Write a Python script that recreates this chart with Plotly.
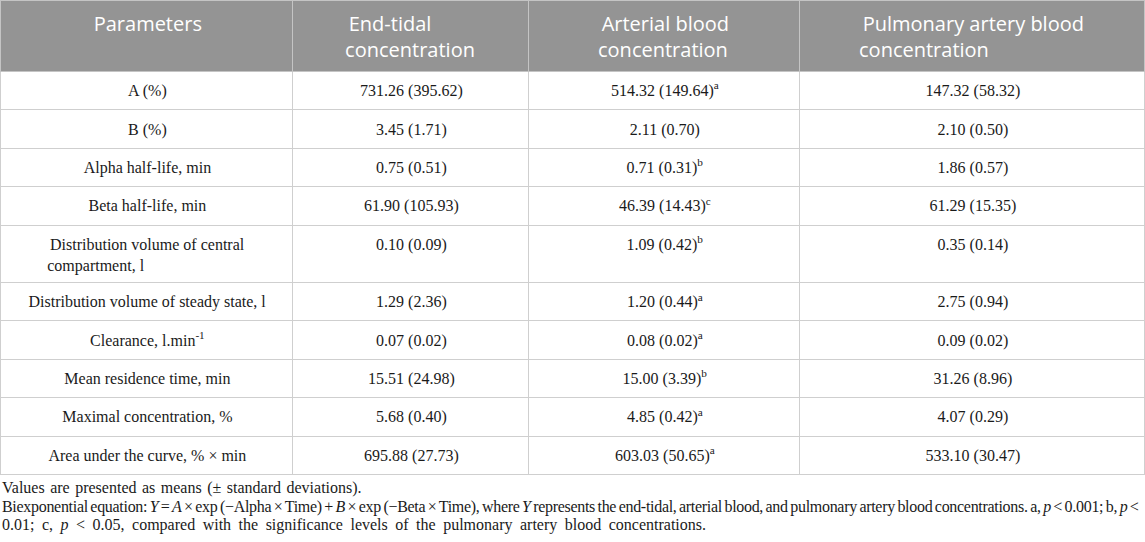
import plotly.graph_objects as go

# ---- data ----
headers = ["Parameters", "End-tidal<br>concentration", "Arterial blood<br>concentration",
           "Pulmonary artery blood<br>concentration"]
parameters = ["A (%)", "B (%)", "Alpha half-life, min", "Beta half-life, min",
              "Distribution volume of central<br>compartment, l",
              "Distribution volume of steady state, l", "Clearance, l.min<sup>-1</sup>",
              "Mean residence time, min", "Maximal concentration, %",
              "Area under the curve, % × min"]
end_tidal_mean = [731.26, 3.45, 0.75, 61.90, 0.10, 1.29, 0.07, 15.51, 5.68, 695.88]
end_tidal_sd = [395.62, 1.71, 0.51, 105.93, 0.09, 2.36, 0.02, 24.98, 0.40, 27.73]
arterial_mean = [514.32, 2.11, 0.71, 46.39, 1.09, 1.20, 0.08, 15.00, 4.85, 603.03]
arterial_sd = [149.64, 0.70, 0.31, 14.43, 0.42, 0.44, 0.02, 3.39, 0.42, 50.65]
arterial_sig = ["a", "", "b", "c", "b", "a", "a", "b", "a", "a"]
pulmonary_mean = [147.32, 2.10, 1.86, 61.29, 0.35, 2.75, 0.09, 31.26, 4.07, 533.10]
pulmonary_sd = [58.32, 0.50, 0.57, 15.35, 0.14, 0.94, 0.02, 8.96, 0.29, 30.47]
footnotes = [
    "Values are presented as means (± standard deviations).",
    "Biexponential equation: <i>Y</i> = <i>A</i> × exp (−Alpha × Time) + <i>B</i> × exp (−Beta × Time), "
    "where <i>Y</i> represents the end-tidal, arterial blood, and pulmonary artery blood concentrations. "
    "a, <i>p</i> < 0.001; b, <i>p</i> <",
    "0.01; c, <i>p</i> < 0.05, compared with the significance levels of the pulmonary artery blood concentrations.",
]
footnote_spacing = [("0px", "1.5px"), ("-0.3px", "-1.2px"), ("0px", "3.5px")]

LIFT = "<sup>\u00a0</sup>"


def fmt(m, s, sup=""):
    t = f"{m:.2f} ({s:.2f})"
    if sup:
        t += f"<sup>{sup}</sup>"
    return LIFT + t


col_par = [LIFT + p for p in parameters]
col_et = [fmt(m, s) for m, s in zip(end_tidal_mean, end_tidal_sd)]
col_ar = [fmt(m, s, g) for m, s, g in zip(arterial_mean, arterial_sd, arterial_sig)]
col_pu = [fmt(m, s) for m, s in zip(pulmonary_mean, pulmonary_sd)]
head_vals = [LIFT + h if "<br>" in h else LIFT + h + "<br>\u00a0" for h in headers]

fig = go.Figure(go.Table(
    columnwidth=[292, 236, 271, 345],
    domain=dict(x=[0, 1], y=[0, 1]),
    header=dict(
        values=head_vals,
        fill_color="#949494",
        line=dict(color="#c4c4c4", width=1),
        font=dict(family="Open Sans", size=20, color="white"),
        align="center",
        height=71,
    ),
    cells=dict(
        values=[col_par, col_et, col_ar, col_pu],
        fill_color="white",
        line=dict(color="#cfcfcf", width=1),
        font=dict(family="Liberation Serif", size=16, color="#1a1a1a"),
        align="center",
        height=38.4,
    ),
))

ys = [488, 507, 525]
for txt, yy, (ls, ws) in zip(footnotes, ys, footnote_spacing):
    fig.add_annotation(
        text=f"<span style='letter-spacing:{ls};word-spacing:{ws}'>{txt}</span>",
        xref="paper", yref="paper", x=0.0, y=1 - yy / 542,
        xanchor="left", yanchor="middle", showarrow=False,
        font=dict(family="Liberation Serif", size=16, color="#1a1a1a"),
        align="left",
    )

fig.update_layout(
    width=1145, height=542,
    margin=dict(l=0, r=1, t=0, b=0),
    paper_bgcolor="white",
)
fig.write_html("out.html", post_script="document.body.style.margin='0';",
               config={"displayModeBar": False})
